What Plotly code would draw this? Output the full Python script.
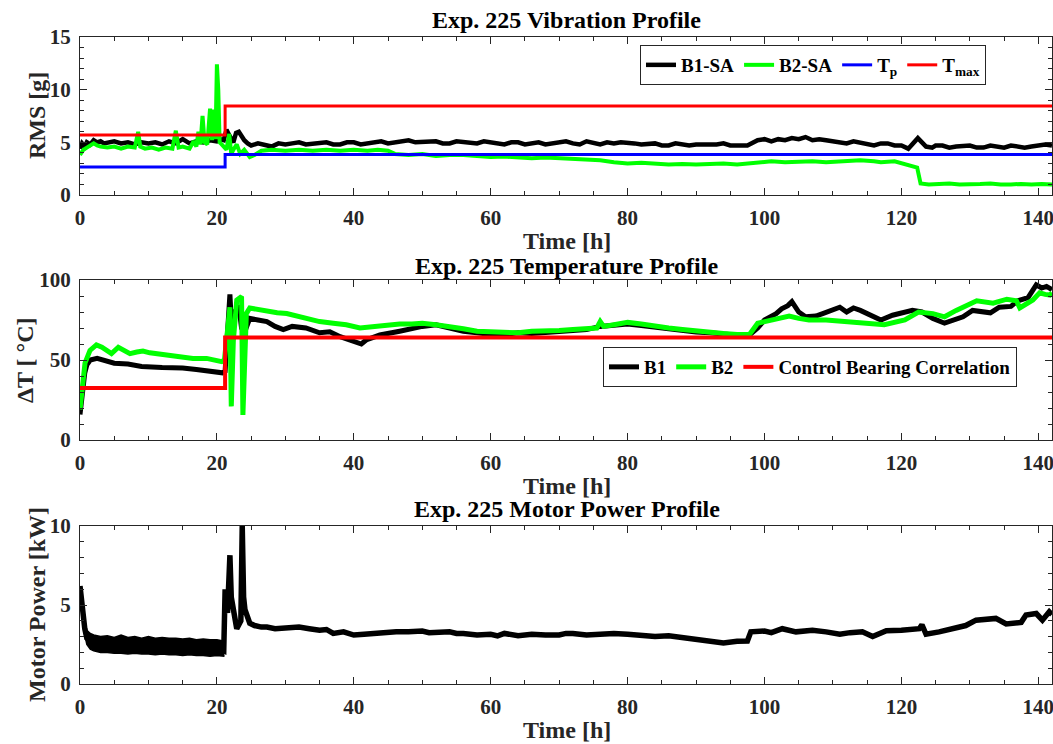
import plotly.graph_objects as go

# ---------------- DATA ----------------
# Panel 1: vibration RMS [g] vs time [h]
vib_b1 = [(0,4.4),(0.3,4.9),(0.7,4.6),(1,5.0),(1.5,4.8),(2,5.2),(2.5,5.0),(3,5.1),(3.5,4.9),(4,5.0),(5,5.1),(6,4.9),(7,5.0),(8,4.8),(9,5.0),(10,4.9),(11,5.0),(12,4.8),(13,5.1),(14,4.9),(15,5.3),(16,4.9),(17,5.1),(18,5.0),(19,5.2),(20,5.1),(20.5,5.3),(21,5.2),(21.4,6.2),(21.7,5.8),(22,5.4),(22.4,5.0),(22.8,5.9),(23.2,6.0),(23.6,5.6),(24,5.2),(24.5,4.9),(25,4.7),(26,4.9),(27,4.8),(28,4.6),(29,4.9),(30,4.8),(31,4.9),(32,5.0),(33,4.8),(34,4.9),(35,5.0),(36,5.0),(37,4.8),(38,4.8),(39,5.0),(40,5.0),(41,4.8),(42,4.9),(43,5.0),(44,5.1),(45,4.9),(46,5.0),(47,5.1),(48,5.2),(49,5.0),(50,5.0),(51,5.1),(52,5.1),(53,4.9),(54,4.9),(55,5.1),(56,5.0),(57,4.9),(58,4.9),(59,5.1),(60,5.0),(61,4.8),(62,4.8),(63,5.0),(64,5.0),(65,4.8),(66,4.9),(67,5.0),(68,4.8),(69,4.9),(70,5.0),(71,5.1),(72,4.9),(73,4.8),(74,5.1),(75,4.9),(76,4.8),(77,5.0),(78,4.9),(79,5.0),(80,5.0),(81,4.9),(82,4.8),(83,4.9),(84,4.9),(85,4.7),(86,4.7),(87,4.9),(88,4.8),(89,4.7),(90,4.8),(91,4.8),(92,4.7),(93,4.8),(94,4.9),(95,4.7),(96,4.7),(97.5,4.7),(99,5.2),(100,5.3),(101,5.1),(102,5.3),(103,5.2),(104,5.4),(105,5.3),(106,5.5),(107,5.2),(108,5.3),(109,5.2),(110,5.1),(111,5.0),(112,4.9),(113,5.1),(114,5.0),(115,4.8),(116,4.7),(117,4.9),(118,4.9),(119,4.7),(120,4.7),(121,4.4),(121.8,4.9),(122.4,5.4),(123,5.0),(123.6,4.6),(124.5,4.5),(125,4.7),(126,4.7),(127,4.5),(128,4.6),(129,4.7),(130,4.7),(131,4.5),(132,4.5),(133,4.7),(134,4.6),(135,4.5),(136,4.7),(137,4.6),(138,4.5),(139,4.6),(140,4.7),(141,4.8),(142,4.7)]
vib_b2 = [(0,3.8),(0.5,4.3),(1,4.5),(1.5,4.7),(2,4.9),(2.5,4.7),(3,4.6),(4,4.5),(5,4.6),(6,4.4),(7,4.6),(8,4.5),(8.5,6.0),(8.8,4.6),(9.5,4.4),(10.5,4.5),(11.5,4.3),(12.5,4.5),(13.5,4.4),(14,6.1),(14.4,4.5),(15,4.6),(16,4.4),(16.6,5.1),(17,4.6),(17.3,6.0),(17.6,4.8),(17.9,7.5),(18.2,5.0),(18.6,4.8),(19,8.2),(19.3,5.2),(19.6,8.1),(19.8,5.3),(20.0,12.4),(20.2,10.0),(20.4,5.0),(20.7,4.8),(21,4.6),(21.4,4.3),(21.8,5.8),(22.1,3.9),(22.5,4.4),(22.9,4.8),(23.4,3.9),(24,4.3),(24.8,3.6),(25.5,3.8),(26.5,4.2),(28,4.3),(30,4.2),(32,4.3),(34,4.2),(36,4.3),(38,4.2),(40,4.3),(42,4.2),(43.5,4.3),(45,4.2),(46,3.9),(48,3.8),(50,3.9),(52,3.7),(54,3.8),(56,3.8),(58,3.7),(60,3.6),(62,3.65),(64,3.6),(66,3.5),(68,3.55),(70,3.5),(72,3.45),(74,3.4),(76,3.3),(78,3.1),(80,3.0),(82,3.05),(84,3.0),(86,2.9),(88,2.95),(90,2.9),(92,2.95),(94,3.0),(96,2.9),(98,3.0),(99,3.1),(101,3.2),(103,3.1),(105,3.15),(107,3.2),(109,3.1),(111,3.15),(113,3.25),(114,3.3),(116,3.2),(117,3.1),(119,3.2),(120.5,2.9),(121.5,2.7),(122.3,2.6),(122.8,1.1),(124,1.0),(125.5,1.05),(127,1.1),(128.5,1.0),(130,1.0),(131.5,1.05),(133,1.1),(134.5,1.0),(136,1.0),(137.5,1.05),(139,1.0),(140.5,1.05),(142,1.0)]
tp_time = [0, 21.2, 142]
tp_vals = [2.65, 3.85, 3.85]
tmax_time = [0, 21.2, 142]
tmax_vals = [5.7, 8.45, 8.45]

# Panel 2: temperature rise [C]
temp_b1 = [(0,16),(0.3,30),(0.7,42),(1,47),(1.5,50),(2.5,51),(3.5,50),(5,48),(7,47.5),(9,46),(12,45.3),(15,45),(17,44),(18,43.5),(20.8,42),(21.2,43),(21.5,70),(21.9,91),(22.2,66),(22.6,80),(23.2,84),(23.6,70),(24.1,68),(24.8,76),(26,75),(27.3,74),(28.5,71),(29.7,69),(31,71),(33,70),(35,67),(36.5,67.6),(38,64.6),(40,61.5),(41.1,60),(41.8,62.5),(43.8,65.6),(46.7,68),(48.5,70),(50,71),(52,72),(54,70),(56,68),(58,67),(60,66),(62,66),(64,67),(66,66.5),(68,67),(70,67.5),(72,68.5),(74,69),(76,71),(78,72),(80,72.5),(82,71.5),(84,70.5),(86,69),(88,68),(90,67.5),(92,67),(94,66),(96,65.5),(97.8,65.6),(99,70),(100,75),(101.7,79),(102.5,82),(103.4,84),(104,86.5),(105,80),(106,77),(107.5,77.5),(108.5,79),(110,81),(111,83),(112,80),(113,82.5),(114,81),(115,79),(117,75),(118.7,78),(120,79),(121.6,81),(123,80),(124.6,76),(126.3,73),(127.5,75),(129,77),(130.4,81),(131.8,80),(133,79.5),(134.3,83),(136,83.5),(137,87),(138.5,89),(139.7,97),(140.5,95),(141.2,96),(142,94)]
temp_b2 = [(0,19),(0.4,35),(0.73,48),(1.46,56),(2.4,59.4),(3.2,58),(3.9,56),(4.6,54),(5.6,58),(6.3,56),(7.3,54),(8.3,55),(9.2,55.6),(10.2,54.5),(11.2,54),(12.4,53.5),(13.6,53),(15,52.5),(16.5,51),(18.5,51),(20,50),(20.7,49),(21.1,50),(21.4,64.6),(21.6,77),(21.9,83),(22.1,21),(22.4,62),(22.9,87.5),(23.6,89.6),(23.8,15.6),(24.3,79),(24.8,82.5),(26,81.5),(27.3,80),(28.8,79.5),(30.2,79),(31.8,77.5),(33.1,76),(35,74),(37,73),(38.9,72),(40.9,70),(42.8,71),(44.5,71.5),(46.7,72.5),(48.5,72.5),(50,73),(52,72),(54,71),(56,69.5),(58,68),(60,67.5),(62,67.5),(64,67),(66,68),(68,68),(70,68.5),(72,69),(74,69.5),(75.5,70),(76,74),(76.5,71),(78,72),(80,73.5),(82,72.5),(84,71),(86,70),(88,69),(90,68),(92,67.5),(94,66.5),(96,66),(97.8,66),(99,73),(100,74),(101.7,75),(103.6,77.5),(105,76),(106.5,75),(109,75),(112,74),(115,73.5),(117.5,72),(120.5,75),(122.5,80),(124.6,79),(126.3,77),(128,81),(129.5,84.4),(131,87),(133.4,85.5),(135.4,88),(136.8,87),(137.3,82.5),(139.2,87.5),(140.2,92),(141,91),(141.7,90.6),(142,92)]
ctrl_time = [0, 21.2, 142]
ctrl_vals = [32.5, 64, 64]

# Panel 3: motor power [kW]
power = [(0,6.2),(0.15,5.6),(0.3,4.6),(0.5,4.0),(0.7,3.5),(1,2.9),(2,2.6),(4,2.5),(6,2.5),(8,2.4),(10,2.5),(12,2.4),(14,2.4),(16,2.3),(18,2.3),(20,2.3),(21.0,2.1),(21.2,6.0),(21.55,4.5),(21.9,8.15),(22.1,5.5),(22.4,4.5),(22.9,3.5),(23.5,4.0),(23.7,10.0),(23.9,5.5),(24.1,4.7),(24.8,3.85),(25.5,3.7),(26.5,3.6),(27.3,3.6),(28.5,3.5),(30,3.55),(31,3.5),(32,3.6),(33.5,3.5),(35,3.4),(36,3.45),(37,3.2),(38.5,3.3),(40,3.1),(41.5,3.15),(42.8,3.2),(44.5,3.25),(46.2,3.3),(48,3.3),(50,3.35),(51,3.25),(52,3.25),(54,3.3),(55,3.2),(56,3.2),(58,3.1),(60,3.15),(61,3.05),(62,3.2),(64,3.05),(66,3.15),(68,3.1),(70,3.1),(71,3.2),(72,3.2),(74,3.1),(76,3.15),(78,3.2),(80,3.15),(82,3.1),(84,3.0),(86,3.05),(88,2.95),(90,2.85),(92,2.75),(94,2.6),(96,2.7),(97.5,2.72),(98,3.3),(100,3.35),(101,3.25),(102.6,3.5),(104.6,3.3),(106,3.35),(107,3.4),(109,3.3),(111,3.15),(112.5,3.25),(114.3,3.3),(115.8,3.0),(117.8,3.37),(120,3.4),(122.6,3.5),(123,3.75),(123.6,3.15),(125.5,3.3),(127.5,3.5),(129.4,3.7),(130.9,4.04),(133.8,4.15),(135.3,3.8),(137.5,3.9),(138.2,4.36),(139.7,4.46),(140.6,4.04),(141.6,4.57),(142,4.4)]
band_time = [0.6,1,1.5,2,3,4,5,6,7,8,9,10,11,12,13,14,15,16,17,18,19,20,21.1]
band_hi = [3.9,3.4,3.2,3.1,3.0,3.05,2.95,3.1,2.95,3.0,2.9,3.0,2.9,2.95,2.9,2.9,2.85,2.9,2.8,2.85,2.8,2.8,2.7]
band_lo = [3.3,2.5,2.2,2.1,2.0,2.0,1.95,1.95,1.9,1.95,1.9,1.9,1.85,1.9,1.85,1.85,1.8,1.85,1.8,1.8,1.75,1.8,1.75]

titles = ["Exp. 225 Vibration Profile", "Exp. 225 Temperature Profile", "Exp. 225 Motor Power Profile"]
ylabels = ["RMS [g]", "ΔT [ °C]", "Motor Power [kW]"]
xlabel = "Time [h]"

# ---------------- FIGURE ----------------
W, H = 1053, 744
FONT = "Liberation Serif"
AX = "#262626"

def unz(pairs):
    return [p[0] for p in pairs], [p[1] for p in pairs]

fig = go.Figure()

x, y = unz(vib_b1)
fig.add_trace(go.Scatter(x=x, y=y, mode="lines", name="B1-SA", line=dict(color="black", width=4.5), xaxis="x", yaxis="y", legend="legend"))
x, y = unz(vib_b2)
fig.add_trace(go.Scatter(x=x, y=y, mode="lines", name="B2-SA", line=dict(color="#00ff00", width=4), xaxis="x", yaxis="y", legend="legend"))
fig.add_trace(go.Scatter(x=tp_time, y=tp_vals, mode="lines", name="T<sub>p</sub>", line=dict(color="blue", width=3, shape="hv"), xaxis="x", yaxis="y", legend="legend"))
fig.add_trace(go.Scatter(x=tmax_time, y=tmax_vals, mode="lines", name="T<sub>max</sub>", line=dict(color="red", width=3, shape="hv"), xaxis="x", yaxis="y", legend="legend"))

x, y = unz(temp_b1)
fig.add_trace(go.Scatter(x=x, y=y, mode="lines", name="B1", line=dict(color="black", width=5), xaxis="x2", yaxis="y2", legend="legend2"))
x, y = unz(temp_b2)
fig.add_trace(go.Scatter(x=x, y=y, mode="lines", name="B2", line=dict(color="#00ff00", width=5), xaxis="x2", yaxis="y2", legend="legend2"))
fig.add_trace(go.Scatter(x=ctrl_time, y=ctrl_vals, mode="lines", name="Control Bearing Correlation", line=dict(color="red", width=4, shape="hv"), xaxis="x2", yaxis="y2", legend="legend2"))

fig.add_trace(go.Scatter(x=band_time, y=band_lo, mode="lines", line=dict(color="black", width=1.5), showlegend=False, xaxis="x3", yaxis="y3"))
fig.add_trace(go.Scatter(x=band_time, y=band_hi, mode="lines", line=dict(color="black", width=1.5), fill="tonexty", fillcolor="black", showlegend=False, xaxis="x3", yaxis="y3"))
x, y = unz(power)
fig.add_trace(go.Scatter(x=x, y=y, mode="lines", line=dict(color="black", width=5.5), showlegend=False, xaxis="x3", yaxis="y3"))

def px2y(py):
    return 1 - py / H

xdom = [80 / W, 1052 / W]
ydoms = [[px2y(195), px2y(37)], [px2y(440), px2y(280)], [px2y(684), px2y(526)]]
yranges = [[0, 15], [0, 100], [0, 10]]
ydticks = [5, 50, 5]
yminor = [1, 10, 1]

tickfont = dict(family=FONT, size=21, color=AX, weight="bold")

layout = dict(
    width=W, height=H,
    margin=dict(l=0, r=0, t=0, b=0, autoexpand=False),
    paper_bgcolor="white", plot_bgcolor="white",
    font=dict(family=FONT, color=AX),
)
for i in range(3):
    sx = "" if i == 0 else str(i + 1)
    layout["xaxis" + sx] = dict(
        domain=xdom, range=[0, 142], anchor="y" + sx, tick0=0, dtick=20,
        showline=True, linecolor=AX, linewidth=1, mirror="ticks", automargin=False,
        ticks="inside", ticklen=7, tickwidth=1, tickcolor=AX, tickfont=tickfont,
        showgrid=False, zeroline=False, ticklabelstandoff=4, ticklabeloverflow="allow",
        minor=dict(ticks="inside", ticklen=4, tickcolor=AX, dtick=5, tick0=0, showgrid=False),
    )
    layout["yaxis" + sx] = dict(
        domain=ydoms[i], range=yranges[i], anchor="x" + sx, tick0=0, dtick=ydticks[i],
        showline=True, linecolor=AX, linewidth=1, mirror="ticks", automargin=False,
        ticks="inside", ticklen=7, tickwidth=1, tickcolor=AX, tickfont=tickfont,
        showgrid=False, zeroline=False, ticklabelstandoff=4, ticklabeloverflow="allow",
        minor=dict(ticks="inside", ticklen=4, tickcolor=AX, dtick=yminor[i], tick0=0, showgrid=False),
    )

legfont = dict(family=FONT, size=19, color="black", weight="bold")
layout["legend"] = dict(x=640 / W, y=px2y(45), xanchor="left", yanchor="top", orientation="h",
                        bgcolor="white", bordercolor=AX, borderwidth=1, font=legfont,
                        itemwidth=30, tracegroupgap=0, traceorder="normal")
layout["legend2"] = dict(x=603 / W, y=px2y(347), xanchor="left", yanchor="top", orientation="h",
                         bgcolor="white", bordercolor=AX, borderwidth=1, font=legfont,
                         itemwidth=30, tracegroupgap=0, traceorder="normal")

cx = (80 + W) / 2 / W
title_y = [20, 266, 509]
xlab_y = [241, 486, 730]
ylab_x = [37, 25, 37]
ylab_y = [116, 360, 605]
ann = []
for i in range(3):
    ann.append(dict(text=titles[i], x=cx, y=px2y(title_y[i]), xref="paper", yref="paper",
                    xanchor="center", yanchor="middle", showarrow=False,
                    font=dict(family=FONT, size=24, color="black", weight="bold")))
    ann.append(dict(text=xlabel, x=cx, y=px2y(xlab_y[i]), xref="paper", yref="paper",
                    xanchor="center", yanchor="middle", showarrow=False,
                    font=dict(family=FONT, size=24, color=AX, weight="bold")))
    ann.append(dict(text=ylabels[i], x=ylab_x[i] / W, y=px2y(ylab_y[i]), xref="paper", yref="paper",
                    xanchor="center", yanchor="middle", showarrow=False, textangle=-90,
                    font=dict(family=FONT, size=24, color=AX, weight="bold")))
layout["annotations"] = ann

fig.update_layout(**layout)
fig.write_html("out.html")
